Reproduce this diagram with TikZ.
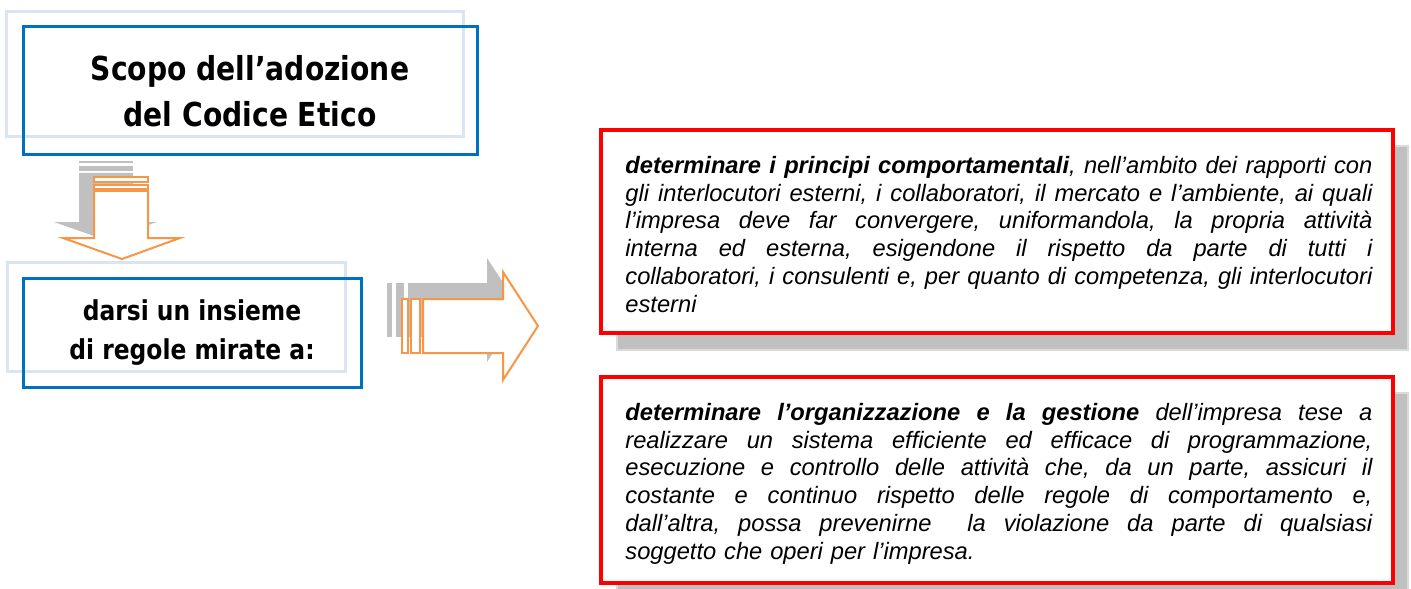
\documentclass[tikz,border=0pt]{standalone}
\usepackage{fontspec}
\setmainfont{Liberation Sans}
\newfontfamily\titlefont[FakeStretch=0.854]{DejaVu Sans}
\definecolor{boxblue}{HTML}{0070C0}
\definecolor{lightblue}{HTML}{DBE5F1}
\definecolor{arrorange}{HTML}{F79646}
\definecolor{shadowgray}{HTML}{C0C0C0}
\definecolor{shadowedge}{HTML}{DADADA}
\newlength\bodyw
\setlength\bodyw{373.5pt}
\newcommand\jline[1]{\makebox[\bodyw][s]{\frenchspacing\spaceskip=0pt\xspaceskip=0pt\strut #1}}
\tikzset{
  lightframe/.style={draw=lightblue, line width=1.5pt},
  blueframe/.style={draw=boxblue, line width=1.5pt, inner sep=0pt, align=center},
  redframe/.style={draw=red, line width=2pt, fill=white, inner sep=0pt},
  shadowbox/.style={fill=shadowgray, draw=shadowedge, line width=0.6pt},
  arrowline/.style={draw=arrorange, line width=1pt, fill=white, line join=miter},
  arrowshadow/.style={fill=shadowgray},
  bodytext/.style={anchor=north west, inner sep=0pt, text width=373.5pt, align=left,
    font={\fontsize{11.85}{13.9}\selectfont\itshape}},
}
\begin{document}
\begin{tikzpicture}[x=0.5pt,y=-0.5pt]
\useasboundingbox (0,0) rectangle (1411,588);
% ---- left title box
\draw[lightframe] (6,12) rectangle (463,137);
\node[blueframe, minimum width=227pt, minimum height=64pt,
  font={\titlefont\bfseries\fontsize{16.5}{23}\selectfont}] (title) at (250,91)
  {Scopo dell’adozione\\del Codice Etico};
% ---- down arrow
\fill[arrowshadow] (79,161) rectangle (133,163.5);
\fill[arrowshadow] (79,166) rectangle (133,171);
\fill[arrowshadow] (79,173) -- (133,173) -- (133,222) -- (157,222) -- (105.5,240) -- (54,222) -- (79,222) -- cycle;
\draw[arrowline] (94,177) rectangle (148,182.5);
\draw[arrowline] (94,185) rectangle (148,189);
\draw[arrowline] (94,191) -- (148,191) -- (148,238) -- (180,238) -- (122,259) -- (63,238) -- (94,238) -- cycle;
% ---- second left box
\draw[lightframe] (7,262) rectangle (345,371);
\node[blueframe, minimum width=169pt, minimum height=54.5pt,
  font={\titlefont\bfseries\fontsize{13.7}{19.5}\selectfont}] (aim) at (192,332.5)
  {darsi un insieme\\di regole mirate a:};
% ---- right arrow
\fill[arrowshadow] (387,283) rectangle (392,337);
\fill[arrowshadow] (396,283) rectangle (404,337);
\fill[arrowshadow] (408,283) -- (487,283) -- (487,258) -- (521,310) -- (487,362) -- (487,337) -- (408,337) -- cycle;
\draw[arrowline] (402,299) rectangle (408,353);
\draw[arrowline] (411,299) rectangle (420,353);
\draw[arrowline] (423,299) -- (503,299) -- (503,272) -- (538,326) -- (503,380) -- (503,353) -- (423,353) -- cycle;
% ---- right box 1
\draw[shadowbox] (617,146) rectangle (1408,350);
\node[redframe, minimum width=396pt, minimum height=101.5pt] (box1) at (997,231.5) {};
\node[bodytext] (text1) at (625,153.5) {%
\jline{\textbf{determinare i principi comportamentali}, nell’ambito dei rapporti con}\\
\jline{gli interlocutori esterni, i collaboratori, il mercato e l’ambiente, ai quali}\\
\jline{l’impresa deve far convergere, uniformandola, la propria attività}\\
\jline{interna ed esterna, esigendone il rispetto da parte di tutti i}\\
\jline{collaboratori, i consulenti e, per quanto di competenza, gli interlocutori}\\
\strut esterni};
% ---- right box 2
\draw[shadowbox] (617,393) rectangle (1408,600);
\node[redframe, minimum width=396pt, minimum height=103pt] (box2) at (997,480) {};
\node[bodytext] (text2) at (625,400.5) {%
\jline{\textbf{determinare l’organizzazione e la gestione} dell’impresa tese a}\\
\jline{realizzare un sistema efficiente ed efficace di programmazione,}\\
\jline{esecuzione e controllo delle attività che, da un parte, assicuri il}\\
\jline{costante e continuo rispetto delle regole di comportamento e,}\\
\jline{dall’altra, possa prevenirne\ \ la violazione da parte di qualsiasi}\\
\strut soggetto che operi per l’impresa.};
\end{tikzpicture}
\end{document}
